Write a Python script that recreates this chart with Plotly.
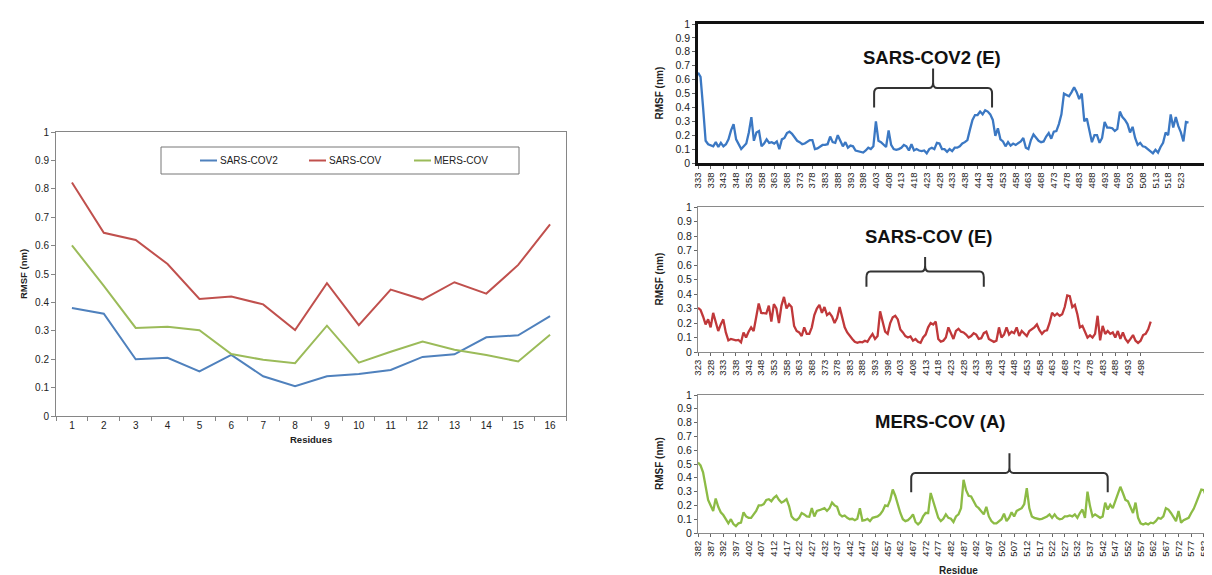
import plotly.graph_objects as go

W, H = 1212, 575
FONT = "Liberation Sans, Arial, sans-serif"

# ---------------- Left chart data ----------------
residue_groups = list(range(1, 17))
series_names = ["SARS-COV2", "SARS-COV", "MERS-COV"]
sars_cov2_avg = [0.38, 0.36, 0.20, 0.205, 0.157, 0.215, 0.14, 0.105, 0.14, 0.148,
                 0.162, 0.208, 0.217, 0.277, 0.284, 0.352]
sars_cov_avg = [0.822, 0.645, 0.62, 0.535, 0.412, 0.421, 0.393, 0.303, 0.468, 0.32,
                0.445, 0.41, 0.471, 0.431, 0.532, 0.675]
mers_cov_avg = [0.601, 0.458, 0.31, 0.314, 0.302, 0.218, 0.198, 0.186, 0.318, 0.188,
                0.226, 0.262, 0.233, 0.215, 0.192, 0.286]
left_colors = ["#4f81bd", "#c0504d", "#9bbb59"]

y_ticks = [0, 0.1, 0.2, 0.3, 0.4, 0.5, 0.6, 0.7, 0.8, 0.9, 1]
y_tick_text = ["0", "0.1", "0.2", "0.3", "0.4", "0.5", "0.6", "0.7", "0.8", "0.9", "1"]

# ---------------- Right panels data ----------------
p1_title = "SARS-COV2 (E)"
p1_start = 333
p1_rmsf = [
    0.65, 0.62, 0.40, 0.16, 0.135, 0.13, 0.12, 0.15, 0.115, 0.145,
    0.12, 0.135, 0.17, 0.235, 0.28, 0.17, 0.13, 0.10, 0.12, 0.14,
    0.22, 0.33, 0.16, 0.22, 0.23, 0.12, 0.14, 0.17, 0.145, 0.15,
    0.14, 0.155, 0.10, 0.17, 0.18, 0.215, 0.225, 0.21, 0.185, 0.16,
    0.15, 0.135, 0.14, 0.155, 0.165, 0.165, 0.10, 0.105, 0.12, 0.13,
    0.13, 0.135, 0.19, 0.15, 0.145, 0.20, 0.16, 0.12, 0.15, 0.11,
    0.125, 0.12, 0.09, 0.085, 0.085, 0.075, 0.09, 0.11, 0.10, 0.12,
    0.30, 0.16, 0.15, 0.13, 0.115, 0.235, 0.13, 0.10, 0.095, 0.10,
    0.11, 0.13, 0.12, 0.09, 0.135, 0.09, 0.10, 0.09, 0.085, 0.09,
    0.07, 0.10, 0.11, 0.10, 0.145, 0.14, 0.10, 0.10, 0.08, 0.10,
    0.085, 0.11, 0.11, 0.12, 0.14, 0.15, 0.165, 0.24, 0.31, 0.345,
    0.345, 0.37, 0.35, 0.38, 0.37, 0.35, 0.31, 0.195, 0.25, 0.17,
    0.155, 0.12, 0.15, 0.125, 0.14, 0.13, 0.145, 0.155, 0.18, 0.11,
    0.10, 0.165, 0.205, 0.18, 0.16, 0.15, 0.155, 0.19, 0.215, 0.175,
    0.225, 0.23, 0.28, 0.35, 0.50, 0.49, 0.48, 0.51, 0.545, 0.51,
    0.46, 0.50, 0.30, 0.32, 0.24, 0.15, 0.20, 0.20, 0.145, 0.18,
    0.295, 0.255, 0.255, 0.25, 0.23, 0.245, 0.37, 0.33, 0.31, 0.28,
    0.22, 0.26, 0.18, 0.13, 0.145, 0.12, 0.115, 0.10, 0.09, 0.07,
    0.095, 0.075, 0.115, 0.145, 0.22, 0.20, 0.35, 0.255, 0.33, 0.265,
    0.22, 0.155, 0.295, 0.29,
]
p1_ticks = list(range(333, 524, 5))
p1_bracket = [402.3, 448.7]

p2_title = "SARS-COV (E)"
p2_start = 323
p2_rmsf = [
    0.305, 0.29, 0.245, 0.19, 0.225, 0.17, 0.27, 0.21, 0.145, 0.19,
    0.225, 0.135, 0.08, 0.09, 0.085, 0.08, 0.083, 0.067, 0.135, 0.10,
    0.14, 0.17, 0.145, 0.245, 0.335, 0.27, 0.27, 0.265, 0.32, 0.21,
    0.33, 0.30, 0.20, 0.32, 0.38, 0.30, 0.33, 0.31, 0.18, 0.145,
    0.135, 0.11, 0.17, 0.125, 0.125, 0.17, 0.255, 0.30, 0.325, 0.27,
    0.31, 0.255, 0.27, 0.245, 0.20, 0.235, 0.31, 0.235, 0.17, 0.135,
    0.11, 0.09, 0.07, 0.063, 0.07, 0.067, 0.078, 0.07, 0.10, 0.125,
    0.09, 0.11, 0.28, 0.20, 0.14, 0.125, 0.20, 0.24, 0.25, 0.225,
    0.155, 0.135, 0.11, 0.10, 0.107, 0.078, 0.09, 0.07, 0.063, 0.10,
    0.12, 0.17, 0.20, 0.19, 0.21, 0.09, 0.072, 0.078, 0.10, 0.17,
    0.125, 0.09, 0.145, 0.16, 0.14, 0.135, 0.12, 0.10, 0.11, 0.13,
    0.12, 0.09, 0.095, 0.13, 0.14, 0.09, 0.08, 0.07, 0.078, 0.17,
    0.10, 0.12, 0.17, 0.12, 0.14, 0.13, 0.17, 0.11, 0.145, 0.13,
    0.11, 0.145, 0.155, 0.17, 0.19, 0.15, 0.125, 0.145, 0.15, 0.20,
    0.27, 0.25, 0.265, 0.25, 0.26, 0.31, 0.39, 0.385, 0.31, 0.325,
    0.26, 0.17, 0.18, 0.145, 0.10, 0.115, 0.10, 0.125, 0.25, 0.08,
    0.18, 0.125, 0.145, 0.125, 0.135, 0.10, 0.145, 0.09, 0.135, 0.09,
    0.067, 0.09, 0.117, 0.078, 0.063, 0.078, 0.117, 0.125, 0.157, 0.21,
]
p2_ticks = list(range(323, 499, 5))
p2_bracket = [389.6, 436.0]

p3_title = "MERS-COV (A)"
p3_start = 382
p3_rmsf = [
    0.51, 0.49, 0.44, 0.33, 0.24, 0.20, 0.16, 0.25, 0.19, 0.15,
    0.13, 0.10, 0.07, 0.10, 0.065, 0.05, 0.07, 0.075, 0.15, 0.12,
    0.11, 0.11, 0.135, 0.16, 0.20, 0.20, 0.21, 0.24, 0.245, 0.23,
    0.255, 0.27, 0.24, 0.22, 0.23, 0.245, 0.195, 0.12, 0.10, 0.093,
    0.11, 0.145, 0.135, 0.12, 0.118, 0.18, 0.12, 0.16, 0.165, 0.175,
    0.18, 0.16, 0.18, 0.22, 0.20, 0.19, 0.135, 0.12, 0.127, 0.11,
    0.10, 0.103, 0.093, 0.103, 0.18, 0.09, 0.093, 0.103, 0.086, 0.11,
    0.115, 0.12, 0.135, 0.16, 0.20, 0.195, 0.24, 0.315, 0.27, 0.205,
    0.145, 0.10, 0.086, 0.093, 0.11, 0.135, 0.08, 0.062, 0.08, 0.12,
    0.145, 0.145, 0.29, 0.23, 0.17, 0.11, 0.086, 0.103, 0.135, 0.11,
    0.103, 0.08, 0.12, 0.135, 0.18, 0.385, 0.31, 0.27, 0.265, 0.23,
    0.195, 0.18, 0.16, 0.135, 0.19, 0.12, 0.086, 0.07, 0.07, 0.086,
    0.10, 0.14, 0.086, 0.11, 0.15, 0.12, 0.16, 0.17, 0.18, 0.21,
    0.325, 0.18, 0.12, 0.11, 0.103, 0.10, 0.103, 0.11, 0.12, 0.135,
    0.11, 0.135, 0.11, 0.10, 0.103, 0.12, 0.12, 0.127, 0.12, 0.135,
    0.11, 0.145, 0.17, 0.11, 0.30, 0.195, 0.12, 0.135, 0.12, 0.11,
    0.12, 0.22, 0.17, 0.205, 0.18, 0.23, 0.28, 0.335, 0.29, 0.24,
    0.23, 0.18, 0.145, 0.22, 0.11, 0.07, 0.062, 0.07, 0.062, 0.075,
    0.07, 0.086, 0.11, 0.103, 0.12, 0.18, 0.17, 0.145, 0.12, 0.086,
    0.16, 0.075, 0.093, 0.10, 0.11, 0.145, 0.175, 0.22, 0.27, 0.315,
    0.31, 0.255, 0.205, 0.17, 0.145, 0.205,
]
p3_ticks = list(range(382, 583, 5))
p3_bracket = [466.3, 544.0]

panel_colors = ["#3b78c3", "#c0383a", "#8cbb45"]


def fx(px):
    return px / W


def fy(py):
    return 1 - py / H


fig = go.Figure()

# ---------------- Left chart ----------------
for name, vals, col in zip(series_names, [sars_cov2_avg, sars_cov_avg, mers_cov_avg], left_colors):
    fig.add_trace(go.Scatter(x=residue_groups, y=vals, mode="lines", name=name,
                             line=dict(color=col, width=2), xaxis="x", yaxis="y",
                             showlegend=False))

# ---------------- Right panels ----------------
panels = [
    (p1_title, p1_start, p1_rmsf, p1_ticks, p1_bracket, "2", panel_colors[0]),
    (p2_title, p2_start, p2_rmsf, p2_ticks, p2_bracket, "3", panel_colors[1]),
    (p3_title, p3_start, p3_rmsf, p3_ticks, p3_bracket, "4", panel_colors[2]),
]
for title, start, vals, ticks, br, k, col in panels:
    fig.add_trace(go.Scatter(x=list(range(start, start + len(vals))), y=vals, mode="lines",
                             name=title, line=dict(color=col, width=2.3),
                             xaxis="x" + k, yaxis="y" + k, showlegend=False))

tickfont_l = dict(family=FONT, size=10, color="#222")
layout = dict(
    width=W, height=H, margin=dict(l=0, r=0, t=0, b=0, pad=0, autoexpand=False),
    paper_bgcolor="white", plot_bgcolor="white", showlegend=False,
    font=dict(family=FONT, color="#222"),
)

layout["xaxis"] = dict(domain=[fx(48), fx(558)], range=[0.5, 16.5], tickvals=residue_groups,
                       ticktext=[str(v) for v in residue_groups], ticks="",
                       minor=dict(ticks="outside", tick0=0.5, dtick=1, ticklen=4, tickcolor="#868686"),
                       showline=True, mirror=True, linecolor="#868686", linewidth=1,
                       showgrid=False, zeroline=False, tickfont=tickfont_l, anchor="y",
                       automargin=False)
layout["yaxis"] = dict(domain=[fy(408), fy(124)], range=[0, 1], tickvals=y_ticks, ticktext=y_tick_text,
                       ticks="outside", ticklen=4, tickcolor="#868686",
                       showline=True, mirror=True, linecolor="#868686", linewidth=1,
                       showgrid=False, zeroline=False, tickfont=tickfont_l, anchor="x",
                       automargin=False)

panel_pix = [(16, 155), (199, 344), (387, 525)]
x_ranges = [(333, 538), (323, 529), (382, 588)]
for i, (title, start, vals, ticks, br, k, col) in enumerate(panels):
    top, bot = panel_pix[i]
    lc = "#111" if i == 0 else "#8a8a8a"
    lw = 2.5 if i == 0 else 1
    layout["xaxis" + k] = dict(domain=[fx(690), fx(1211)], range=list(x_ranges[i]),
                               tickvals=ticks, ticktext=[str(t) for t in ticks], tickangle=-90,
                               ticks="outside", ticklen=3, tickcolor="#666",
                               showline=True, mirror=True, linecolor=lc, linewidth=lw,
                               showgrid=False, zeroline=False, automargin=False,
                               tickfont=dict(family=FONT, size=9.5, color="#222"), anchor="y" + k)
    layout["yaxis" + k] = dict(domain=[fy(bot), fy(top)], range=[0, 1], tickvals=y_ticks,
                               ticktext=y_tick_text, ticks="outside", ticklen=3, tickcolor="#666",
                               showline=True, mirror=True, linecolor=lc, linewidth=lw,
                               showgrid=False, zeroline=False, automargin=False,
                               tickfont=dict(family=FONT, size=10.5, color="#222"), anchor="x" + k)

annotations = []
shapes = []


def paper_text(px, py, text, size, angle=0, xanchor="center"):
    return dict(x=fx(px), y=fy(py), xref="paper", yref="paper", text=text, textangle=angle,
                xanchor=xanchor, yanchor="middle", showarrow=False,
                font=dict(family=FONT, size=size, color="#222"))


# Axis titles
annotations.append(paper_text(15, 266, "<b>RMSF (nm)</b>", 9.5, -90))
annotations.append(paper_text(303, 432, "<b>Residues</b>", 9.5))
annotations.append(paper_text(950, 562, "<b>Residue</b>", 10))
for top, bot in panel_pix:
    annotations.append(paper_text(651, (top + bot) / 2, "<b>RMSF (nm)</b>", 10, -90))

# Panel titles and brackets
title_pos = [(425, 0.76), (414, 0.80), (478, 0.81)]
bracket_y = [(0.40, 0.54, 0.68), (0.45, 0.555, 0.656), (0.295, 0.435, 0.578)]
for i, (title, start, vals, ticks, br, k, col) in enumerate(panels):
    tx, ty = title_pos[i]
    annotations.append(dict(x=tx, y=ty, xref="x" + k, yref="y" + k, text="<b>%s</b>" % title,
                            xanchor="center", yanchor="middle",
                            showarrow=False, font=dict(family=FONT, size=18.5, color="#111")))
    xl, xr = br
    xc = (xl + xr) / 2
    yb, yh, yt = bracket_y[i]
    dx, dy = 1.6, 0.04
    path = (f"M{xl},{yb} L{xl},{yh - dy} Q{xl},{yh} {xl + dx},{yh} L{xc - dx},{yh} "
            f"Q{xc},{yh} {xc},{yh + dy} L{xc},{yt} "
            f"M{xc},{yt} L{xc},{yh + dy} Q{xc},{yh} {xc + dx},{yh} L{xr - dx},{yh} "
            f"Q{xr},{yh} {xr},{yh - dy} L{xr},{yb}")
    shapes.append(dict(type="path", path=path, xref="x" + k, yref="y" + k,
                       line=dict(color="#333", width=2)))

# Manual legend for left chart
shapes.append(dict(type="rect", xref="paper", yref="paper", x0=fx(153), x1=fx(511),
                   y0=fy(166), y1=fy(139), line=dict(color="#777", width=1), fillcolor="white"))
legend_x = [192, 301, 406]
for name, col, lx in zip(series_names, left_colors, legend_x):
    shapes.append(dict(type="line", xref="paper", yref="paper", x0=fx(lx), x1=fx(lx + 17),
                       y0=fy(152.5), y1=fy(152.5), line=dict(color=col, width=2)))
    annotations.append(paper_text(lx + 18, 152.5, name, 10, 0, "left"))

layout["annotations"] = annotations
layout["shapes"] = shapes
fig.update_layout(**layout)
fig.write_html("out.html")
